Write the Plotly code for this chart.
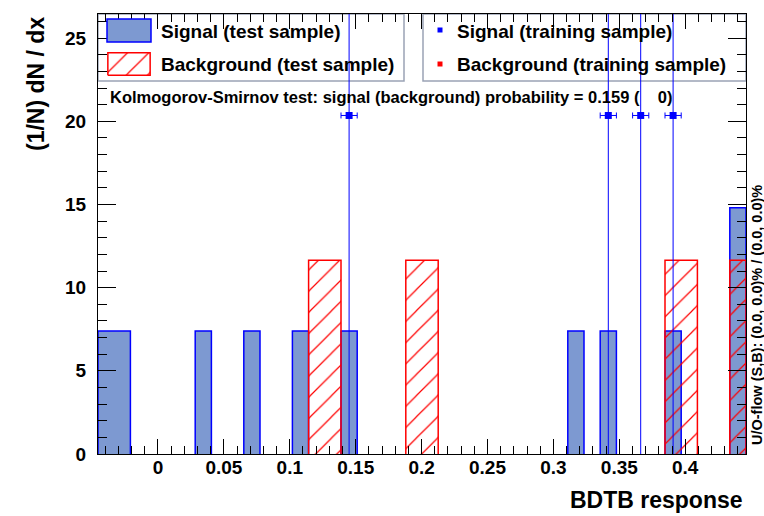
import plotly.graph_objects as go

# ---------------- data ----------------
x_lo, x_hi, n_bins = -0.0455, 0.4461, 40
y_max = 26.45

# normalised (1/N dN/dx) bin contents, 40 bins
sig_test = [7.4, 7.4, 0, 0, 0, 0, 7.4, 0, 0, 7.4,
            0, 0, 7.4, 0, 0, 7.4, 0, 0, 0, 0,
            0, 0, 0, 0, 0, 0, 0, 0, 0, 7.4,
            0, 7.4, 0, 0, 0, 7.4, 0, 0, 0, 14.8]
bkg_test = [0, 0, 0, 0, 0, 0, 0, 0, 0, 0,
            0, 0, 0, 11.65, 11.65, 0, 0, 0, 0, 11.65,
            11.65, 0, 0, 0, 0, 0, 0, 0, 0, 0,
            0, 0, 0, 0, 0, 11.65, 11.65, 0, 0, 11.65]
sig_train = [0, 0, 0, 0, 0, 0, 0, 0, 0, 0,
             0, 0, 0, 0, 0, 20.35, 0, 0, 0, 0,
             0, 0, 0, 0, 0, 0, 0, 0, 0, 0,
             0, 20.35, 0, 20.35, 0, 20.35, 0, 0, 0, 0]

legend_labels = ["Signal (test sample)", "Background (test sample)",
                 "Signal (training sample)", "Background (training sample)"]
ks_text = "Kolmogorov-Smirnov test: signal (background) probability = 0.159 (\u00a0\u00a0\u00a0\u00a00)"
uo_text = "U/O-flow (S,B): (0.0, 0.0)% / (0.0, 0.0)%"
x_title = "BDTB response"
y_title = "(1/N) dN / dx"

# ---------------- helpers ----------------
bw = (x_hi - x_lo) / n_bins
edges = [x_lo + i * bw for i in range(n_bins + 1)]
centers = [x_lo + (i + 0.5) * bw for i in range(n_bins)]


def step_polys(h):
    xs, ys = [], []
    i = 0
    while i < n_bins:
        if h[i] > 0:
            xs.append(edges[i]); ys.append(0)
            while i < n_bins and h[i] > 0:
                xs += [edges[i], edges[i + 1]]
                ys += [h[i], h[i]]
                i += 1
            xs.append(edges[i]); ys.append(0)
            xs.append(None); ys.append(None)
        else:
            i += 1
    return xs, ys


FONT = "Liberation Sans, Arial, Helvetica, sans-serif"
BLUE_FILL = "#7d99d1"
BLUE = "#0000ff"
RED = "#ff0000"
PATTERN = dict(shape="/", fgcolor=RED, bgcolor="rgba(0,0,0,0)", size=15, solidity=0.08)

# plot area in pixels
W, H = 764, 516
PL, PR, PT, PB = 98, 746, 14, 454


def px(x):
    return (x - PL) / (PR - PL)


def py(y):
    return (PB - y) / (PB - PT)


fig = go.Figure()

sx, sy = step_polys(sig_test)
fig.add_trace(go.Scatter(x=sx, y=sy, mode="lines", fill="toself", fillcolor=BLUE_FILL,
                         line=dict(color=BLUE, width=1.5), hoverinfo="skip", showlegend=False))
bx, by = step_polys(bkg_test)
fig.add_trace(go.Scatter(x=bx, y=by, mode="lines", fill="toself", fillcolor="rgba(0,0,0,0)",
                         fillpattern=PATTERN,
                         line=dict(color=RED, width=1.5), hoverinfo="skip", showlegend=False))

tx = [c for c, v in zip(centers, sig_train) if v > 0]
ty = [v for v in sig_train if v > 0]
fig.add_trace(go.Scatter(
    x=tx, y=ty, mode="markers",
    marker=dict(symbol="square", size=7, color=BLUE),
    error_x=dict(type="constant", value=bw / 2, color=BLUE, thickness=1, width=3),
    error_y=dict(type="data", array=ty, color=BLUE, thickness=1, width=0),
    showlegend=False, hoverinfo="skip"))

# legend hatched swatch drawn on a tiny helper axis
fig.add_trace(go.Scatter(x=[0, 1, 1, 0, 0], y=[0, 0, 1, 1, 0], mode="lines", fill="toself",
                         fillcolor="rgba(0,0,0,0)", fillpattern=PATTERN,
                         line=dict(color=RED, width=1.5), xaxis="x2", yaxis="y2",
                         showlegend=False, hoverinfo="skip"))

tickfont = dict(family=FONT, size=19, color="black", weight="bold")
fig.update_layout(
    width=W, height=H, template="none",
    margin=dict(l=PL, r=W - PR, t=PT, b=H - PB, autoexpand=False),
    paper_bgcolor="white", plot_bgcolor="white",
    showlegend=False,
    xaxis=dict(range=[x_lo, x_hi], tick0=0, dtick=0.05, ticks="inside", ticklen=15,
               tickwidth=1, tickcolor="black", showline=True, linecolor="black",
               linewidth=1, mirror="allticks", showgrid=False, zeroline=False,
               tickfont=tickfont, ticklabelstandoff=-4,
               minor=dict(dtick=0.01, ticks="inside", ticklen=8, tickcolor="black",
                          tickwidth=1, showgrid=False)),
    yaxis=dict(range=[0, y_max], dtick=5, ticks="inside", ticklen=18, tickwidth=1,
               tickcolor="black", showline=True, linecolor="black", linewidth=1,
               mirror="allticks", showgrid=False, zeroline=False, tickfont=tickfont,
               ticklabelstandoff=7,
               minor=dict(dtick=1, ticks="inside", ticklen=9, tickcolor="black",
                          tickwidth=1, showgrid=False)),
    xaxis2=dict(domain=[px(107), px(151)], range=[-0.02, 1.02], visible=False,
                anchor="y2", fixedrange=True),
    yaxis2=dict(domain=[py(76), py(52)], range=[-0.03, 1.03], visible=False,
                anchor="x2", fixedrange=True),
)

shapes = []
box_line = dict(color="#9aa3b5", width=1.5)
shapes.append(dict(type="rect", xref="paper", yref="paper", x0=px(98), x1=px(404),
                   y0=py(81), y1=py(14), line=box_line, layer="below"))
shapes.append(dict(type="rect", xref="paper", yref="paper", x0=px(423), x1=px(746),
                   y0=py(81), y1=py(14), line=box_line, layer="below"))
shapes.append(dict(type="rect", xref="paper", yref="paper", x0=px(107), x1=px(151),
                   y0=py(42), y1=py(19), fillcolor=BLUE_FILL, line=dict(color=BLUE, width=1.5)))
for yc, col in [(30, BLUE), (64, RED)]:
    shapes.append(dict(type="rect", xref="paper", yref="paper", x0=px(437.5), x1=px(442.5),
                       y0=py(yc + 2.5), y1=py(yc - 2.5), fillcolor=col, line=dict(width=0)))
fig.update_layout(shapes=shapes)

ann_font = dict(family=FONT, size=19, color="black", weight="bold")
anns = [
    dict(text=legend_labels[0], x=px(159), y=py(31), xanchor="left", yanchor="middle", font=ann_font),
    dict(text=legend_labels[1], x=px(159), y=py(64), xanchor="left", yanchor="middle", font=ann_font),
    dict(text=legend_labels[2], x=px(455), y=py(31), xanchor="left", yanchor="middle", font=ann_font),
    dict(text=legend_labels[3], x=px(455), y=py(64), xanchor="left", yanchor="middle", font=ann_font),
    dict(text=ks_text, x=px(108), y=py(97), xanchor="left", yanchor="middle",
         font=dict(family=FONT, size=16.5, color="black", weight="bold")),
    dict(text=uo_text, x=px(757), y=py(315), xanchor="center", yanchor="middle", textangle=-90,
         font=dict(family=FONT, size=14.5, color="black", weight="bold")),
    dict(text=x_title, x=px(745), y=py(500), xanchor="right", yanchor="middle",
         font=dict(family=FONT, size=23, color="black", weight="bold")),
    dict(text=y_title, x=px(36), y=py(15), xanchor="center", yanchor="top", textangle=-90,
         font=dict(family=FONT, size=23, color="black", weight="bold")),
]
for a in anns:
    a.update(xref="paper", yref="paper", showarrow=False)
fig.update_layout(annotations=anns)

fig.write_html("out.html", config={"displayModeBar": False},
               post_script="document.body.style.margin='0';")
